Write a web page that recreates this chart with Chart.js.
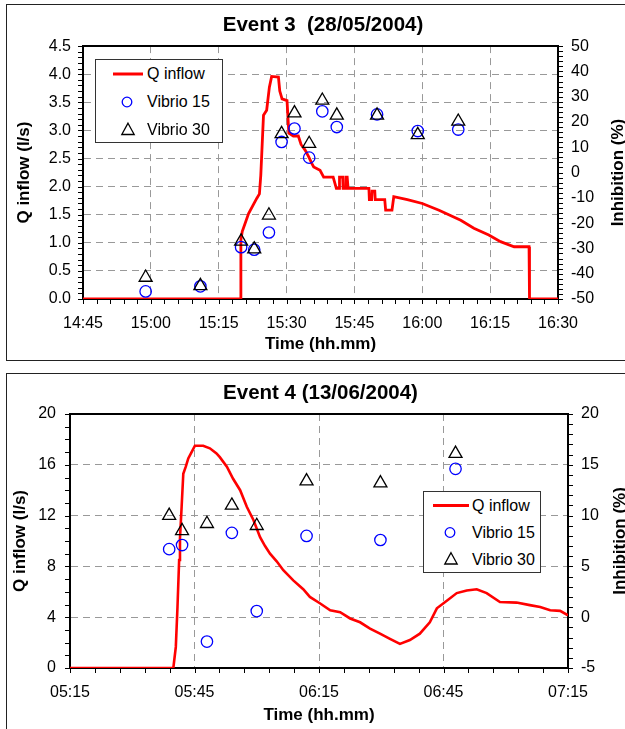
<!DOCTYPE html>
<html>
<head>
<meta charset="utf-8">
<title>Event 3 / Event 4 - Q inflow and inhibition</title>
<script src="https://cdn.jsdelivr.net/npm/chart.js@4.4.1/dist/chart.umd.min.js"></script>
<style>
  body { margin: 0; width: 625px; height: 729px; overflow: hidden; background: #fff; position: relative;
         font-family: "Liberation Sans", Arial, sans-serif; }
  .frame { position: absolute; left: 6px; width: 700px; border: 1.5px solid #222; }
  canvas { position: absolute; left: 0; z-index: 1; }
  .legend { position: absolute; box-sizing: border-box; background: #fff; border: 1px solid #333; font-size: 16px; z-index: 2; }
  .legend svg, .legend span { position: absolute; }
  .legend span { white-space: nowrap; color: #000; }
</style>
</head>
<body>
<div class="frame" style="top:3.5px; height:355px;"></div>
<div class="frame" style="top:372.5px; height:400px;"></div>
<canvas id="event3" width="646" height="360" style="top:0px"></canvas>
<canvas id="event4" width="641" height="364" style="top:365px"></canvas>
<div class="legend" id="legend3"></div>
<div class="legend" id="legend4"></div>

<script>
// Event 3 (28/05/2004)
const e3TimeLabels = ['14:45', '15:00', '15:15', '15:30', '15:45', '16:00', '16:15', '16:30'];
const e3FlowTicks = [0, 0.5, 1, 1.5, 2, 2.5, 3, 3.5, 4, 4.5];
const e3InhTicks = [-50, -40, -30, -20, -10, 0, 10, 20, 30, 40, 50];

const e3FlowTime = ['14:45:00', '15:19:48', '15:19:54', '15:20:12', '15:21:36', '15:23:24', '15:24:00', '15:24:18',
  '15:24:54', '15:25:36', '15:26:12', '15:26:42', '15:28:12', '15:28:30', '15:29:00', '15:30:06', '15:30:30',
  '15:31:30', '15:32:36', '15:33:12', '15:34:06', '15:34:54', '15:35:36', '15:36:00', '15:37:24', '15:38:12',
  '15:40:18', '15:41:00', '15:41:36', '15:41:42', '15:42:24', '15:42:30', '15:43:00', '15:43:06', '15:43:24',
  '15:43:36', '15:48:12', '15:48:18', '15:48:48', '15:48:54', '15:49:30', '15:49:36', '15:51:42', '15:51:54',
  '15:53:18', '15:53:42', '15:56:42', '16:00:00', '16:03:42', '16:08:30', '16:11:24', '16:14:42', '16:17:18',
  '16:20:18', '16:23:36', '16:23:42', '16:30:00'];
const e3Flow = [0, 0, 1.05, 1.2, 1.52, 1.79, 1.87, 2.2,
  3.27, 3.36, 3.77, 3.96, 3.95, 3.7, 3.56, 3.53, 2.95,
  2.9, 2.9, 2.75, 2.65, 2.53, 2.41, 2.35, 2.29, 2.17,
  2.17, 1.97, 1.97, 2.17, 2.17, 1.97, 1.97, 2.17, 2.17,
  1.97, 1.97, 1.77, 1.77, 1.92, 1.92, 1.77, 1.77, 1.58,
  1.58, 1.82, 1.77, 1.70, 1.58, 1.40, 1.26, 1.14, 1.02,
  0.93, 0.93, 0, 0];

const e3SampleTime = ['14:58:51', '15:10:57', '15:19:57', '15:22:51', '15:26:06', '15:28:54', '15:31:45',
  '15:35:00', '15:37:54', '15:41:06', '15:50:00', '15:59:00', '16:07:57'];
const e3Vibrio15 = [-47, -45, -29.5, -30.5, -23.7, 12.1, 17.4, 5.9, 24.2, 18.0, 23.0, 16.4, 17.0];
const e3Vibrio30 = [-41.5, -44.8, -27.2, -30.3, -16.9, 15.3, 23.5, 11.4, 28.5, 22.6, 22.6, 14.9, 20.2];

// Event 4 (13/06/2004)
const e4TimeLabels = ['05:15', '05:45', '06:15', '06:45', '07:15'];
const e4FlowTicks = [0, 4, 8, 12, 16, 20];
const e4InhTicks = [-5, 0, 5, 10, 15, 20];

const e4FlowTime = ['05:15:00', '05:39:54', '05:40:30', '05:40:54', '05:41:18', '05:41:30', '05:41:54', '05:42:18',
  '05:42:54', '05:43:30', '05:44:18', '05:45:06', '05:47:06', '05:48:42', '05:50:18', '05:51:06', '05:52:48',
  '05:54:18', '05:56:00', '05:57:36', '05:59:12', '06:00:48', '06:02:00', '06:03:12', '06:04:48', '06:06:24',
  '06:08:48', '06:11:12', '06:12:48', '06:15:12', '06:17:42', '06:20:06', '06:22:30', '06:24:54', '06:27:18',
  '06:29:42', '06:32:06', '06:34:30', '06:36:54', '06:39:18', '06:41:42', '06:43:24', '06:45:48', '06:48:12',
  '06:50:36', '06:53:00', '06:55:24', '06:58:36', '07:02:36', '07:05:48', '07:08:18', '07:10:42', '07:13:06',
  '07:15:00'];
const e4Flow = [0, 0, 1.66, 4.8, 8.5, 10.2, 12.7, 15.3,
  15.85, 16.5, 17.0, 17.5, 17.5, 17.3, 16.9, 16.6, 15.85,
  14.9, 14.0, 12.7, 11.65, 10.3, 9.6, 9.0, 8.4, 7.7,
  6.9, 6.2, 5.6, 5.1, 4.55, 4.4, 3.9, 3.6, 3.1,
  2.7, 2.3, 1.9, 2.2, 2.7, 3.6, 4.7, 5.3, 5.9,
  6.1, 6.2, 5.9, 5.2, 5.15, 4.95, 4.8, 4.55, 4.5,
  4.15];

const e4SampleTime = ['05:38:54', '05:42:00', '05:48:00', '05:54:00', '06:00:00', '06:12:00', '06:29:48', '06:47:54'];
const e4Vibrio15 = [6.7, 7.1, -2.4, 8.3, 0.6, 8.0, 7.6, 14.6];
const e4Vibrio30 = [10.0, 8.5, 9.2, 11.0, 9.0, 13.4, 13.2, 16.1];

const seriesNames = ['Q inflow', 'Vibrio 15', 'Vibrio 30'];

const RED = '#ff0000';
const BLUE = '#0000ff';
const GRID = '#999999';
const NONE = 'rgba(0,0,0,0)';
const FONT = '"Liberation Sans", Arial, sans-serif';
const TICK_LEN = 5;

Chart.defaults.font.family = FONT;
Chart.defaults.font.size = 16;
Chart.defaults.color = '#000';

function toMin(s) {
  const p = s.split(':').map(Number);
  return p[0] * 60 + p[1] + (p[2] || 0) / 60;
}

function hhmm(v) {
  const h = Math.floor(v / 60);
  const m = Math.round(v - h * 60);
  return String(h).padStart(2, '0') + ':' + String(m).padStart(2, '0');
}

function isOn(v, step, base) {
  const k = (v - base) / step;
  return Math.abs(k - Math.round(k)) < 1e-6;
}

function pts(times, vals) {
  return times.map((t, i) => ({ x: toMin(t), y: vals[i] }));
}

// axis with labelled major ticks, unlabelled minor ticks and dashed grid on majors
function axis(o) {
  const min = o.majors[0];
  const max = o.majors[o.majors.length - 1];
  const step = o.majors[1] - o.majors[0];
  return {
    type: 'linear',
    position: o.position,
    min: min,
    max: max,
    afterFit: (s) => { if (s.isHorizontal()) s.height = o.size; else s.width = o.size; },
    ticks: {
      stepSize: o.minor,
      maxTicksLimit: 1000,
      autoSkip: false,
      maxRotation: 0,
      minRotation: 0,
      padding: o.pad,
      color: '#000',
      font: { size: 16 },
      callback: (v) => isOn(v, step, min) ? o.fmt(v) : ''
    },
    grid: {
      drawOnChartArea: !!o.grid,
      drawTicks: false,
      lineWidth: 1,
      color: (c) => (c.tick && isOn(c.tick.value, step, min) && c.tick.value > min + 1e-9 && c.tick.value < max - 1e-9) ? GRID : NONE
    },
    border: { display: true, color: '#000', width: 2, dash: [7, 5] },
    title: o.title ? {
      display: true,
      text: o.title,
      font: { size: 17, weight: 'bold' },
      color: '#000',
      padding: o.titlePad
    } : { display: false }
  };
}

// small outward tick marks at every tick (major and minor)
const tickMarks = {
  id: 'tickMarks',
  afterDraw(chart) {
    const { ctx, chartArea } = chart;
    ctx.save();
    ctx.strokeStyle = '#000';
    ctx.lineWidth = 1;
    ctx.beginPath();
    Object.values(chart.scales).forEach((s) => {
      if (s.options.ticks.display === false) return;
      s.ticks.forEach((t) => {
        const p = Math.round(s.getPixelForValue(t.value)) + 0.5;
        if (s.position === 'bottom') {
          ctx.moveTo(p, chartArea.bottom);
          ctx.lineTo(p, chartArea.bottom + TICK_LEN);
        } else if (s.position === 'left') {
          ctx.moveTo(chartArea.left - TICK_LEN, p);
          ctx.lineTo(chartArea.left, p);
        } else if (s.position === 'right') {
          ctx.moveTo(chartArea.right, p);
          ctx.lineTo(chartArea.right + TICK_LEN, p);
        }
      });
    });
    ctx.stroke();
    ctx.restore();
  }
};

// right axis title, read bottom to top like the left one
const rightTitle = {
  id: 'rightTitle',
  afterDraw(chart, args, opts) {
    const { ctx, chartArea } = chart;
    ctx.save();
    ctx.translate(chartArea.right + opts.gap, (chartArea.top + chartArea.bottom) / 2);
    ctx.rotate(-Math.PI / 2);
    ctx.font = 'bold 17px ' + FONT;
    ctx.fillStyle = '#000';
    ctx.textAlign = 'center';
    ctx.textBaseline = 'middle';
    ctx.fillText(opts.text, 0, 0);
    ctx.restore();
  }
};

function eventChart(id, ev) {
  const xMin = toMin(ev.timeLabels[0]);
  const xMax = toMin(ev.timeLabels[ev.timeLabels.length - 1]);
  return new Chart(document.getElementById(id), {
    type: 'scatter',
    data: {
      datasets: [
        {
          label: seriesNames[0], data: pts(ev.flowTime, ev.flow), showLine: true,
          borderColor: RED, backgroundColor: RED, borderWidth: ev.lineWidth, pointRadius: 0,
          xAxisID: 'x', yAxisID: 'yL', order: 3
        },
        {
          label: seriesNames[1], data: pts(ev.sampleTime, ev.v15), pointStyle: 'circle', pointRadius: 5.7,
          borderColor: BLUE, backgroundColor: NONE, borderWidth: 1.3, xAxisID: 'x', yAxisID: 'yR', order: 2
        },
        {
          label: seriesNames[2], data: pts(ev.sampleTime, ev.v30), pointStyle: 'triangle', pointRadius: 7.5,
          borderColor: '#000', backgroundColor: NONE, borderWidth: 1.3, xAxisID: 'x', yAxisID: 'yR', order: 1
        }
      ]
    },
    options: {
      responsive: false,
      animation: false,
      events: [],
      layout: { padding: 0 },
      scales: {
        x: axis({ position: 'bottom', majors: ev.timeLabels.map(toMin), minor: ev.xMinor, size: ev.xSize, pad: 15,
                  fmt: hhmm, grid: true, title: 'Time (hh.mm)', titlePad: { top: 0, bottom: ev.xTitlePad } }),
        xTop: {
          type: 'linear', position: 'top', min: xMin, max: xMax,
          afterFit: (s) => { s.height = 0; },
          ticks: { display: false },
          grid: { drawOnChartArea: false, drawTicks: false },
          border: { display: true, color: '#000', width: 2 }
        },
        yL: axis({ position: 'left', majors: ev.flowTicks, minor: ev.flowMinor, size: ev.leftSize, pad: ev.leftPad,
                   fmt: ev.flowFmt, grid: true, title: 'Q inflow (l/s)', titlePad: { top: ev.yTitlePad, bottom: 0 } }),
        yR: axis({ position: 'right', majors: ev.inhTicks, minor: ev.inhMinor, size: ev.rightSize, pad: 13,
                   fmt: (v) => String(Math.round(v)), grid: false })
      },
      plugins: {
        legend: { display: false },
        tooltip: { enabled: false },
        title: {
          display: true, text: ev.title, color: '#000',
          font: { size: 20.5, weight: 'bold' },
          padding: ev.titlePad
        },
        rightTitle: { text: 'Inhibition (%)', gap: ev.rightTitleGap }
      }
    },
    plugins: [tickMarks, rightTitle]
  });
}

function buildLegend(id, lay) {
  const el = document.getElementById(id);
  el.style.left = lay.left + 'px';
  el.style.top = lay.top + 'px';
  el.style.width = lay.width + 'px';
  el.style.height = lay.height + 'px';
  const cx = lay.symW / 2;
  const cy = lay.rowH / 2;
  const symbols = [
    `<line x1="${cx - lay.lineLen / 2}" y1="${cy}" x2="${cx + lay.lineLen / 2}" y2="${cy}" stroke="${RED}" stroke-width="3"/>`,
    `<circle cx="${cx - 1}" cy="${cy}" r="4.8" fill="none" stroke="${BLUE}" stroke-width="1.3"/>`,
    `<polygon points="${cx},${cy - 6.8} ${cx + 6.2},${cy + 4.5} ${cx - 6.2},${cy + 4.5}" fill="none" stroke="#000" stroke-width="1.3"/>`
  ];
  seriesNames.forEach((name, i) => {
    const top = lay.pad + i * lay.rowH;
    const svg = `<svg width="${lay.symW}" height="${lay.rowH}" style="left:${lay.symLeft}px; top:${top}px">${symbols[i]}</svg>`;
    const txt = `<span style="left:${lay.textLeft}px; top:${top}px; line-height:${lay.rowH}px">${name}</span>`;
    el.insertAdjacentHTML('beforeend', svg + txt);
  });
}

eventChart('event3', {
  title: 'Event 3  (28/05/2004)',
  timeLabels: e3TimeLabels, flowTicks: e3FlowTicks, inhTicks: e3InhTicks,
  flowTime: e3FlowTime, flow: e3Flow,
  sampleTime: e3SampleTime, v15: e3Vibrio15, v30: e3Vibrio30,
  xMinor: 3, flowMinor: 0.1, inhMinor: 2,
  flowFmt: (v) => v.toFixed(1),
  lineWidth: 2.8,
  xSize: 61, leftSize: 83, rightSize: 88, leftPad: 12,
  xTitlePad: 5.8, yTitlePad: 13.8, rightTitleGap: 60,
  titlePad: { top: 13.5, bottom: 8 }
});

eventChart('event4', {
  title: 'Event 4 (13/06/2004)',
  timeLabels: e4TimeLabels, flowTicks: e4FlowTicks, inhTicks: e4InhTicks,
  flowTime: e4FlowTime, flow: e4Flow,
  sampleTime: e4SampleTime, v15: e4Vibrio15, v30: e4Vibrio30,
  xMinor: 6, flowMinor: 1, inhMinor: 1,
  flowFmt: (v) => String(Math.round(v)),
  lineWidth: 2.6,
  xSize: 61, leftSize: 70, rightSize: 73, leftPad: 14,
  xTitlePad: 3.3, yTitlePad: 9.8, rightTitleGap: 52,
  titlePad: { top: 15.7, bottom: 8.7 }
});

buildLegend('legend3', { left: 95, top: 59, width: 128, height: 84, rowH: 28, pad: 0, symLeft: 12, symW: 40, textLeft: 51, lineLen: 30 });
buildLegend('legend4', { left: 423, top: 491, width: 118, height: 82, rowH: 27, pad: 0, symLeft: 6, symW: 42, textLeft: 48, lineLen: 36 });
</script>
</body>
</html>
